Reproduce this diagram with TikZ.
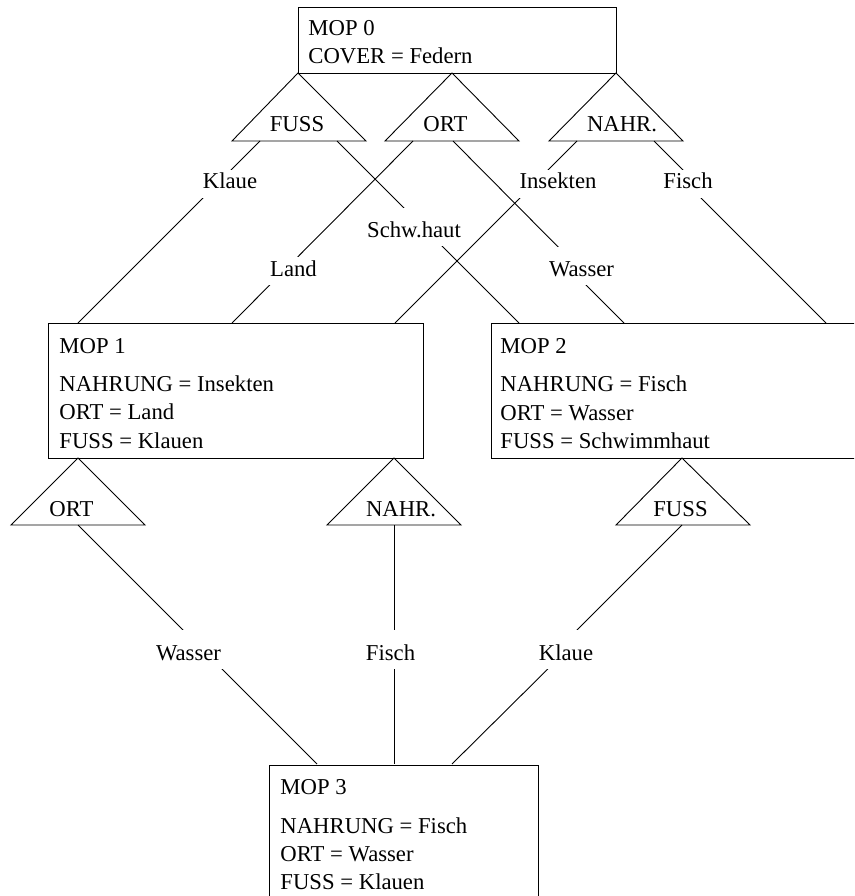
\documentclass[tikz,border=0pt]{standalone}
\usepackage{fontspec}
\setmainfont{Liberation Serif}
\begin{document}
\begin{tikzpicture}[x=1pt,y=-1pt,line width=0.9pt,
  every node/.style={font=\fontsize{22.7}{27}\selectfont},
  mop/.style={draw,rectangle,inner sep=0pt,anchor=north west},
  entry/.style={anchor=base west,inner sep=0pt},
  attr/.style={anchor=base,inner sep=0pt},
  val/.style={anchor=base,fill=white,inner sep=4pt,text depth=5pt,text height=15pt},
  tall/.style={text height=25pt}]
\useasboundingbox (0,0) rectangle (854,896);
\clip (0,0) rectangle (854,896);

% MOP boxes
\node[mop,minimum width=318,minimum height=66] (mop0) at (298,7) {};
\node[mop,minimum width=375,minimum height=135] (mop1) at (48,323) {};
\node[mop,minimum width=380,minimum height=135] (mop2) at (491,323) {};
\node[mop,minimum width=269,minimum height=160] (mop3) at (269,765) {};

% box contents
\node[entry] (m0a) at (308,36) {MOP 0};
\node[entry] (m0b) at (308,64) {COVER = Federn};
\node[entry] (m1a) at (59,353) {MOP 1};
\node[entry] (m1b) at (59,391) {NAHRUNG = Insekten};
\node[entry] (m1c) at (59,419) {ORT = Land};
\node[entry] (m1d) at (59,448) {FUSS = Klauen};
\node[entry] (m2a) at (500,353) {MOP 2};
\node[entry] (m2b) at (500,391) {NAHRUNG = Fisch};
\node[entry] (m2c) at (500,420) {ORT = Wasser};
\node[entry] (m2d) at (500,448) {FUSS = Schwimmhaut};
\node[entry] (m3a) at (280,794) {MOP 3};
\node[entry] (m3b) at (280,833) {NAHRUNG = Fisch};
\node[entry] (m3c) at (280,861) {ORT = Wasser};
\node[entry] (m3d) at (280,889) {FUSS = Klauen};

% attribute triangles
\draw (298,73) -- (232,141) -- (366,141) -- cycle;
\draw (452,73) -- (385,141) -- (519,141) -- cycle;
\draw (616,73) -- (549,141) -- (683,141) -- cycle;
\draw (78,458) -- (11,525) -- (145,525) -- cycle;
\draw (394,458) -- (327,525) -- (461,525) -- cycle;
\draw (682,458) -- (616,525) -- (750,525) -- cycle;
\node[attr] (a0f) at (297,132) {FUSS};
\node[attr] (a0o) at (445.5,132) {ORT};
\node[attr] (a0n) at (622,132) {NAHR.};
\node[attr] (a1o) at (71.5,516) {ORT};
\node[attr] (a1n) at (401,516) {NAHR.};
\node[attr] (a2f) at (680.5,516) {FUSS};

% connector end points on the triangles
\coordinate (fl) at (260,141);
\coordinate (fr) at (337,141);
\coordinate (ol) at (413,141);
\coordinate (or) at (453,141);
\coordinate (nl) at (577,141);
\coordinate (nr) at (654,141);
\coordinate (o2) at (78,525);
\coordinate (n2) at (394,525);
\coordinate (f2) at (682,525);
% connector end points on the boxes
\coordinate (b1a) at (78,323);
\coordinate (b1b) at (232,323);
\coordinate (b1c) at (395,323);
\coordinate (b2a) at (519,323);
\coordinate (b2b) at (624,323);
\coordinate (b2c) at (826,323);
\coordinate (b3a) at (317,764);
\coordinate (b3b) at (394,764);
\coordinate (b3c) at (452,764);

% connectors
\draw (fl) -- (b1a);
\draw (fr) -- (b2a);
\draw (ol) -- (b1b);
\draw (or) -- (577,266) -- (567,266) -- (b2b);
\draw (nl) -- (b1c);
\draw (nr) -- (697,184) -- (687,184) -- (b2c);
\draw (o2) -- (b3a);
\draw (n2) -- (b3b);
\draw (f2) -- (557,650) -- (567,650) -- (b3c);

% value labels on the connectors
\node[val] (v1) at (230,189) {Klaue};
\node[val,tall] (v2) at (414,237) {Schw.haut};
\node[val] (v3) at (293.5,276) {Land};
\node[val,tall] (v4) at (581.5,276) {Wasser};
\node[val] (v5) at (558,189) {Insekten};
\node[val] (v6) at (688,189) {Fisch};
\node[val,text height=26pt] (v7) at (188.5,660) {Wasser};
\node[val,text height=26pt] (v8) at (390.5,660) {Fisch};
\node[val,text height=26pt] (v9) at (566,660) {Klaue};
\end{tikzpicture}
\end{document}
